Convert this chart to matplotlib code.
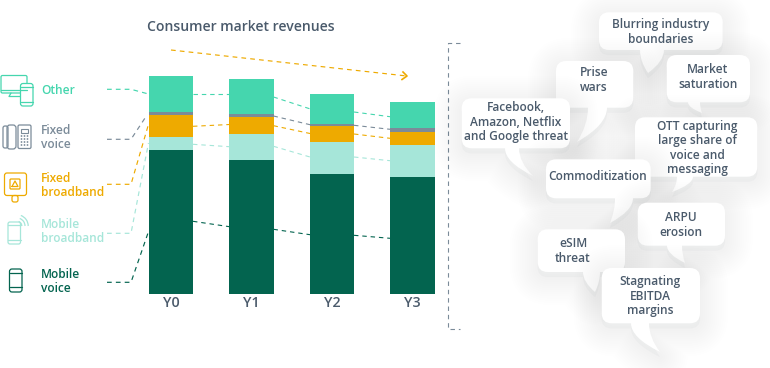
import matplotlib
matplotlib.use("Agg")
import matplotlib.pyplot as plt
from matplotlib.path import Path
from matplotlib.patches import PathPatch, FancyBboxPatch, Rectangle, Circle, Arc
from matplotlib.transforms import Affine2D

FONT = "Open Sans"
plt.rcParams["font.family"] = [FONT, "DejaVu Sans"]

# ---- data ----
years = ["Y0", "Y1", "Y2", "Y3"]
mobile_voice = [143.5, 134.0, 119.8, 116.8]
mobile_broadband = [13.0, 26.0, 31.7, 31.7]
fixed_broadband = [22.0, 16.6, 16.0, 13.3]
fixed_voice = [3.3, 3.0, 2.3, 4.0]
other = [35.7, 34.7, 29.7, 25.7]
series_names = ["Mobile voice", "Mobile broadband", "Fixed broadband", "Fixed voice", "Other"]
title_text = "Consumer market revenues"

# ---- styles ----
C_VOICE, C_MB, C_FB, C_FV, C_OTHER = "#03644F", "#A6E6D9", "#EEAA00", "#7B8B99", "#45D6AE"
C_TEXT = "#4A5A6B"
series = [mobile_voice, mobile_broadband, fixed_broadband, fixed_voice, other]
colors = [C_VOICE, C_MB, C_FB, C_FV, C_OTHER]

fig = plt.figure(figsize=(7.7, 3.68), dpi=100, facecolor="white")

# bars axes, placed so the categories land on the reference's pixel columns
W, H = 770.0, 368.0
bar_ax = fig.add_axes([130 / W, (H - 293.5) / H, 325 / W, 233.5 / H])
bar_ax.set_xlim(-0.509, 3.528)
bar_ax.set_ylim(0, 233.5)
bottom = [0.0] * 4
for vals, col in zip(series, colors):
    bar_ax.bar(range(4), vals, width=0.547, bottom=bottom, color=col, linewidth=0)
    bottom = [b + v for b, v in zip(bottom, vals)]
bar_ax.set_xticks(range(4))
bar_ax.set_xticklabels(years, fontsize=10.3, color=C_TEXT, fontweight="semibold")
bar_ax.tick_params(axis="x", length=0, pad=2)
bar_ax.set_yticks([])
for s in bar_ax.spines.values():
    s.set_visible(False)
bar_ax.patch.set_alpha(0)

# overlay in pixel coordinates for annotations
ov = fig.add_axes([0, 0, 1, 1], zorder=5)
ov.set_xlim(0, W)
ov.set_ylim(H, 0)
ov.axis("off")


def dash(pts, color, lw=0.85, dashes=(4, 3.5)):
    xs, ys = zip(*pts)
    ov.plot(xs, ys, color=color, lw=lw, dashes=dashes, solid_capstyle="butt")


ov.text(147, 27, title_text, fontsize=10.1, color=C_TEXT, va="center", ha="left", fontweight="semibold")

# connectors between bars
links = [
    (C_OTHER, [((193, 94.3), (229.5, 94.3)), ((273.5, 97), (309.5, 108.7)), ((354, 112), (390, 116.7))]),
    (C_FV, [((273.5, 116), (310, 124.7)), ((354, 125.3), (390, 129.3))]),
    (C_FB, [((193, 126.3), (229.5, 124.5)), ((273.5, 125.7), (310, 133.5)), ((354, 134), (390, 138.3))]),
    (C_MB, [((193, 144.3), (229.5, 146.7)), ((273.5, 146.3), (310, 157)), ((354, 157), (390, 160.7))]),
    (C_VOICE, [((193, 221.3), (229.5, 226.7)), ((273.5, 229.3), (310, 234.7)), ((354, 235.3), (390, 238.3))]),
]
for col, segs in links:
    for seg in segs:
        dash(seg, col, lw=0.8)

# connectors from legend to first bar
dash([(107, 89.3), (131, 89.3), (148.5, 94)], C_OTHER)
dash([(107, 139.3), (131, 139.3), (147, 115)], C_FV)
dash([(107, 184.3), (131, 184.3), (148, 126)], C_FB)
dash([(107, 233.3), (131, 233.3), (148.5, 143)], C_MB)
dash([(107, 282.3), (131, 282.3), (148, 233)], C_VOICE)

# trend arrow
dash([(171, 50), (405, 75.8)], C_FB)
ov.plot([403, 407, 402], [72, 76, 79.5], color=C_FB, lw=1.2)

# bracket
dash([(460, 43.3), (448.3, 43.3), (448.3, 328.7), (460, 328.7)], C_FV, lw=0.8)

# legend labels
legend_labels = [
    ("Other", 90, C_OTHER), ("Fixed", 131, C_FV), ("voice", 145, C_FV),
    ("Fixed", 179, C_FB), ("broadband", 193, C_FB),
    ("Mobile", 224, C_MB), ("broadband", 238, C_MB),
    ("Mobile", 274, C_VOICE), ("voice", 288, C_VOICE),
]
for txt, y, col in legend_labels:
    ov.text(41, y, txt, fontsize=8.6, color=col, va="center", ha="left", fontweight="semibold")


def rrect(x0, y0, x1, y1, r, ec, lw=0.9, fc="none"):
    ov.add_patch(FancyBboxPatch((x0 + r, y0 + r), x1 - x0 - 2 * r, y1 - y0 - 2 * r,
                                boxstyle=f"round,pad={r},rounding_size={r}", ec=ec, fc=fc, lw=lw))


def ln(xs, ys, c, lw=0.9):
    ov.plot(xs, ys, color=c, lw=lw, solid_capstyle="round")


# Other icon
rrect(1, 75.5, 27, 93, 1.5, C_OTHER)
ln([1, 27], [90, 90], C_OTHER)
ln([11, 9, 20], [93, 96.5, 96.5], C_OTHER)
rrect(20.5, 83.5, 33, 106, 2.5, C_OTHER, fc="white")
ln([20.5, 33], [87, 87], C_OTHER)
ln([20.5, 33], [102, 102], C_OTHER)
# Fixed voice icon
rrect(7, 125, 16, 149, 3, C_FV)
rrect(3, 126, 8, 148, 2, C_FV)
rrect(18, 125, 31, 148.5, 1.5, C_FV)
ov.add_patch(Rectangle((21, 128.5), 7, 4, fc="none", ec=C_FV, lw=0.8))
for r_ in range(4):
    for c_ in range(3):
        ov.add_patch(Circle((21.5 + c_ * 3, 136 + r_ * 3), 0.9, fc=C_FV, ec="none"))
# Fixed broadband icon
rrect(4.5, 173, 26.5, 195.5, 2.5, C_FB)
rrect(10, 179, 20, 189, 1, C_FB)
ln([12, 15, 18, 12], [186.5, 181, 186.5, 186.5], C_FB)
rrect(12, 195.5, 18, 202, 2, C_FB)
# Mobile broadband icon
rrect(8, 222, 20.5, 244, 2, C_MB)
ln([8, 20.5], [225, 225], C_MB)
ln([8, 20.5], [240, 240], C_MB)
for rad in (6, 10, 14):
    ov.add_patch(Arc((17, 226), rad * 1.6, rad * 1.6, theta1=-70, theta2=-0, angle=0, color=C_MB, lw=0.9))
# Mobile voice icon
rrect(9.5, 269, 22, 292, 2.5, C_VOICE)
ln([9.5, 22], [272.5, 272.5], C_VOICE)
ln([9.5, 22], [287, 287], C_VOICE)

# speech bubbles: box, tail (base-left x, base-right x, tip), text lines, text centre
bubbles = [
    ((599, 12.3, 722.7, 50), (640, 664, (648, 73)), ["Blurring industry", "boundaries"], (661, 32)),
    ((666.7, 55, 750, 102.3), (688, 700, (702, 113)), ["Market", "saturation"], (708, 77)),
    ((556, 61, 633.3, 107.7), (588, 607, (577, 142)), ["Prise", "wars"], (594, 80)),
    ((461.7, 98.3, 570, 148.3), (505, 519, (533, 176)), ["Facebook,", "Amazon, Netflix", "and Google threat"], (516, 122)),
    ((635, 117.3, 757.3, 176.7), (677, 693, (672, 192)), ["OTT capturing", "large share of", "voice and", "messaging"], (697, 148)),
    ((546, 159.3, 650.7, 198.3), (615, 633, (610, 223)), ["Commoditization"], (598, 176.5)),
    ((637.7, 202.7, 725, 245.7), (667, 682, (685, 263)), ["ARPU", "erosion"], (681, 225)),
    ((537.7, 229.3, 625, 272), (583, 600, (595, 292)), ["eSIM", "threat"], (573, 251)),
    ((601.7, 268, 700, 323.3), (631, 649, (660, 352)), ["Stagnating", "EBITDA", "margins"], (650, 296)),
]


def bubble_path(box, tail, r=10):
    x0, y0, x1, y1 = box
    bl, br, tip = tail
    M, L, C, E = Path.MOVETO, Path.LINETO, Path.CURVE3, Path.CLOSEPOLY
    verts = [
        (x0 + r, y0), (x1 - r, y0), (x1, y0), (x1, y0 + r), (x1, y1 - r), (x1, y1), (x1 - r, y1),
        (br, y1), (br, (y1 + tip[1]) / 2), tip,
        (bl, (y1 + tip[1]) / 2), (bl, y1),
        (x0 + r, y1), (x0, y1), (x0, y1 - r), (x0, y0 + r), (x0, y0), (x0 + r, y0), (x0 + r, y0),
    ]
    codes = [M, L, C, C, L, C, C, L, C, C, C, C, L, C, C, L, C, C, E]
    return Path(verts, codes)


z = 10
for box, tail, lines, (xc, yc) in bubbles:
    p = bubble_path(box, tail)
    shadow = p.transformed(Affine2D().translate(0, 5))
    for lw in range(40, 0, -3):
        ov.add_patch(PathPatch(shadow, fc="none", ec="#5a6a78", alpha=0.003, lw=lw, zorder=z,
                               joinstyle="round", capstyle="round"))
    ov.add_patch(PathPatch(shadow, fc="#5a6a78", ec="none", alpha=0.035, zorder=z))
    ov.add_patch(PathPatch(p, fc="white", ec="none", zorder=z + 1))
    ov.text(xc, yc, "\n".join(lines), ha="center", va="center", fontsize=8.6, color=C_TEXT,
            linespacing=1.15, zorder=z + 2, fontweight="semibold")
    z += 3

fig.savefig("out.png", dpi=100, facecolor="white")
